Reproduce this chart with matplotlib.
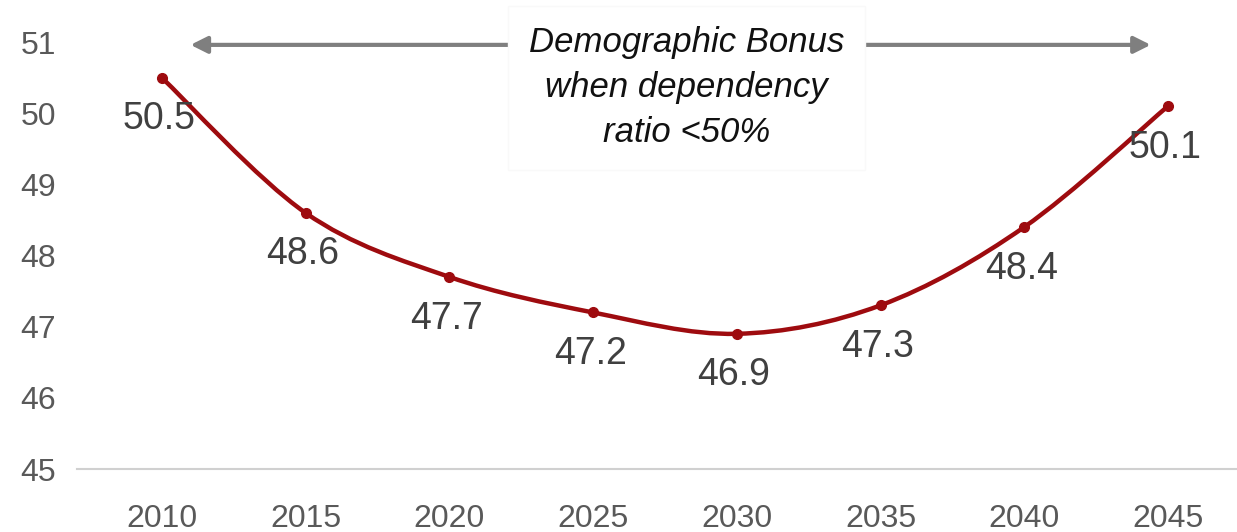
import matplotlib
matplotlib.use("Agg")
import matplotlib.pyplot as plt
from matplotlib.path import Path
from matplotlib.patches import PathPatch
import numpy as np

# data
years = ["2010", "2015", "2020", "2025", "2030", "2035", "2040", "2045"]
ratio = [50.5, 48.6, 47.7, 47.2, 46.9, 47.3, 48.4, 50.1]
y_ticks = [45, 46, 47, 48, 49, 50, 51]
note = "Demographic Bonus\nwhen dependency\nratio <50%"

plt.rcParams['font.family'] = ['Liberation Sans', 'DejaVu Sans']

line_col = '#9e0b0f'
fig = plt.figure(figsize=(12.37, 5.32), dpi=100)
ax = fig.add_axes([0.0622, 0.1184, 0.9378, 0.8026])

x = np.arange(len(years))
y = np.array(ratio)

# smooth line through the points (Catmull-Rom -> cubic bezier)
verts = [(x[0], y[0])]
codes = [Path.MOVETO]
n = len(x)
for i in range(n - 1):
    p0 = (x[max(i - 1, 0)], y[max(i - 1, 0)])
    p1 = (x[i], y[i])
    p2 = (x[i + 1], y[i + 1])
    p3 = (x[min(i + 2, n - 1)], y[min(i + 2, n - 1)])
    c1 = (p1[0] + (p2[0] - p0[0]) / 6, p1[1] + (p2[1] - p0[1]) / 6)
    c2 = (p2[0] - (p3[0] - p1[0]) / 6, p2[1] - (p3[1] - p1[1]) / 6)
    verts += [c1, c2, p2]
    codes += [Path.CURVE4] * 3
ax.add_patch(PathPatch(Path(verts, codes), fill=False, edgecolor=line_col,
                       lw=3.2, capstyle='round', zorder=3))
ax.plot(x, y, 'o', color=line_col, markersize=7, zorder=4)

for xi, yi in zip(x, y):
    ax.annotate(f"{yi:.1f}", (xi, yi), xytext=(-2, -30), textcoords='offset points',
                ha='center', va='center', fontsize=27, color='#404040')

# arrow and note
ax.annotate('', xy=(0.2, 50.96), xytext=(6.88, 50.96),
            arrowprops=dict(arrowstyle='<|-|>', color='#7f7f7f', lw=3,
                            mutation_scale=25, shrinkA=0, shrinkB=0),
            annotation_clip=False)
ax.text(3.65, 50.36, note, ha='center', va='center', fontsize=25, style='italic',
        color='#111111', linespacing=1.45, zorder=5,
        bbox=dict(boxstyle='square,pad=0.6', facecolor='white', edgecolor='#f9f9f9'))

ax.set_xlim(-0.59, 7.48)
ax.set_ylim(45, 51)
ax.set_xticks(x)
ax.set_xticklabels(years)
ax.set_yticks(y_ticks)
ax.tick_params(axis='x', length=0, pad=25, labelsize=23, labelcolor='#595959')
ax.tick_params(axis='y', length=0, pad=15, labelsize=23, labelcolor='#595959')
for s in ['top', 'right', 'left']:
    ax.spines[s].set_visible(False)
ax.spines['bottom'].set_color('#d0d0d0')
ax.spines['bottom'].set_linewidth(1.5)

fig.savefig('out.png', dpi=100)
